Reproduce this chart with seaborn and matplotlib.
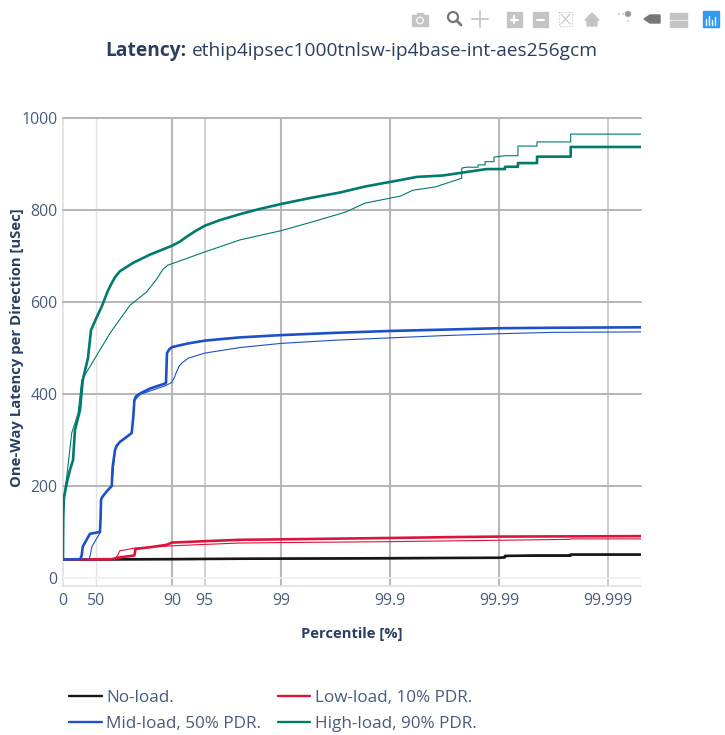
import matplotlib
matplotlib.use("Agg")
import matplotlib.pyplot as plt
import seaborn as sns
import pandas as pd
from matplotlib.patches import Rectangle, Circle, Polygon

# x values are "nines" of the percentile: -log10(1 - p/100)
no_thick_x = [0, 1.0, 1.7, 3.0, 3.95, 4.0, 4.055, 4.055, 4.349, 4.658, 4.658, 5.303]
no_thick_y = [40, 41, 42, 43, 44, 44, 45, 48, 49, 49, 51, 51]
no_thin_x = [0, 1.0, 2.0, 3.0, 3.95, 4.0, 4.055, 4.055, 4.658, 4.658, 5.303]
no_thin_y = [40, 40, 41, 42, 43, 43, 44, 47, 47, 50, 50]

low_thick_x = [0, 0.45, 0.50, 0.655, 0.665, 0.80, 0.95, 1.0, 1.3, 1.62, 2.0, 3.0, 3.6, 4.0, 5.303]
low_thick_y = [40, 41, 44, 49, 63, 67, 72, 77, 80, 83, 84, 87, 89, 90, 91]
low_thin_x = [0, 0.47, 0.50, 0.52, 0.66, 1.0, 1.3, 1.62, 2.0, 3.0, 3.65, 4.0, 4.65, 4.658, 5.303]
low_thin_y = [40, 42, 48, 59, 65, 70, 73, 76, 77, 79, 81, 82, 84, 85, 85]

mid_thick_x = [0, 0.16, 0.172, 0.181, 0.247, 0.339, 0.345, 0.349, 0.36, 0.40, 0.447, 0.455, 0.477, 0.49, 0.523, 0.58, 0.63, 0.645, 0.655, 0.67, 0.706, 0.80, 0.94, 0.945, 0.950, 0.954, 0.975, 1.0, 1.15, 1.3, 1.62, 2.0, 2.5, 3.0, 3.5, 4.0, 4.5, 5.303]
mid_thick_y = [40, 41, 50, 68, 96, 100, 130, 170, 176, 188, 200, 240, 278, 287, 296, 306, 315, 350, 387, 395, 401, 412, 423, 424, 460, 489, 497, 502, 510, 516, 523, 528, 533, 537, 540, 543, 544, 545]
mid_thin_x = [0, 0.24, 0.25, 0.265, 0.339, 0.349, 0.40, 0.447, 0.477, 0.523, 0.63, 0.655, 0.706, 0.94, 0.997, 1.02, 1.043, 1.065, 1.089, 1.15, 1.303, 1.624, 2.0, 2.5, 3.0, 3.5, 4.0, 4.5, 5.303]
mid_thin_y = [40, 41, 50, 68, 98, 170, 188, 200, 278, 296, 315, 385, 399, 418, 425, 435, 449, 460, 467, 478, 489, 501, 510, 517, 522, 527, 531, 534, 535]

high_thick_x = [0, 0.001, 0.003, 0.009, 0.034, 0.064, 0.092, 0.110, 0.156, 0.181, 0.229, 0.257, 0.30, 0.355, 0.413, 0.447, 0.48, 0.523, 0.642, 0.798, 0.997, 1.07, 1.135, 1.22, 1.303, 1.44, 1.624, 1.8, 2.0, 2.266, 2.541, 2.771, 3.0, 3.092, 3.248, 3.486, 3.658, 3.887, 4.055, 4.055, 4.174, 4.174, 4.349, 4.349, 4.658, 4.658, 5.303]
high_thick_y = [40, 90, 141, 175, 206, 235, 256, 322, 365, 430, 478, 539, 562, 590, 625, 641, 655, 667, 685, 703, 722, 731, 742, 755, 766, 778, 791, 802, 813, 826, 838, 851, 861, 865, 872, 875, 881, 889, 889, 894, 894, 902, 902, 916, 916, 937, 937]
high_thin_x = [0, 0.002, 0.009, 0.034, 0.080, 0.138, 0.172, 0.294, 0.431, 0.53, 0.615, 0.768, 0.86, 0.917, 0.96, 1.009, 1.303, 1.624, 2.0, 2.3, 2.587, 2.771, 3.092, 3.211, 3.413, 3.658, 3.658, 3.70, 3.808, 3.808, 3.872, 3.872, 3.954, 3.954, 4.055, 4.174, 4.174, 4.349, 4.349, 4.658, 4.658, 5.303]
high_thin_y = [40, 110, 177, 220, 315, 358, 430, 478, 532, 565, 593, 622, 650, 671, 680, 684, 709, 735, 755, 775, 795, 815, 830, 843, 850, 869, 891, 893, 893, 898, 898, 905, 905, 915, 918, 918, 939, 939, 948, 948, 965, 965]

tick_pos = [0, 0.30103, 1, 1.30103, 2, 3, 4, 5]
tick_labels = ["0", "50", "90", "95", "99", "99.9", "99.99", "99.999"]
y_ticks = [0, 200, 400, 600, 800, 1000]
legend_names = ["No-load.", "Low-load, 10% PDR.", "Mid-load, 50% PDR.", "High-load, 90% PDR."]
title_bold = "Latency:"
title_rest = "ethip4ipsec1000tnlsw-ip4base-int-aes256gcm"

W, H = 725, 735
sns.set_theme(style="white")
plt.rcParams["font.family"] = ["Open Sans", "DejaVu Sans"]
TXT = "#4a5b7a"
NAVY = "#2a3f5f"
BLACK, RED, BLUE, GREEN = "#1a1414", "#dc143c", "#1f4fc8", "#007a6c"
THICK, THIN = 1.9, 0.8

fig = plt.figure(figsize=(W / 100, H / 100), dpi=100)
ax = fig.add_axes([63 / W, 1 - 586 / H, (641 - 63) / W, (586 - 118) / H])

series = [
    (no_thin_x, no_thin_y, BLACK, THIN), (no_thick_x, no_thick_y, BLACK, THICK),
    (low_thin_x, low_thin_y, RED, THIN), (low_thick_x, low_thick_y, RED, THICK),
    (mid_thin_x, mid_thin_y, BLUE, THIN), (mid_thick_x, mid_thick_y, BLUE, THICK),
    (high_thin_x, high_thin_y, GREEN, THIN), (high_thick_x, high_thick_y, GREEN, THICK),
]
for xs, ys, col, lw in series:
    d = pd.DataFrame({"x": xs, "y": ys})
    sns.lineplot(data=d, x="x", y="y", ax=ax, color=col, linewidth=lw,
                 estimator=None, sort=False, errorbar=None, zorder=3, clip_on=True)

ax.set_xlim(0, 5.303)
ax.set_ylim(-17.4, 1000)
ax.set_xticks(tick_pos, tick_labels)
ax.set_yticks(y_ticks)
ax.tick_params(axis="y", length=0, labelsize=11.4, labelcolor=TXT, pad=4)
ax.tick_params(axis="x", length=0, labelsize=11.4, labelcolor=TXT, pad=5)
ax.set_xlabel("")
ax.set_ylabel("")

grid_styles = {0: ("#e4e4e4", 1.4), 0.30103: ("#e4e4e4", 1.0), 1: ("#b8b8b8", 1.5),
               1.30103: ("#d2d2d2", 1.4), 2: ("#b8b8b8", 1.5), 3: ("#b8b8b8", 1.5),
               4: ("#b8b8b8", 1.5), 5: ("#cccccc", 1.4)}
for pos, (c, lw) in grid_styles.items():
    ax.axvline(pos, color=c, lw=lw, zorder=1, clip_on=False)
for v in y_ticks[1:]:
    ax.axhline(v, color="#b4b4b4", lw=1.4, zorder=1, clip_on=False)
ax.axhline(0, color="#efefef", lw=1.2, zorder=1)
for s in ["top", "right", "left"]:
    ax.spines[s].set_visible(False)
ax.spines["bottom"].set_color("#e2e2e2")
ax.spines["bottom"].set_linewidth(1.2)

fig.text(352 / W, 1 - 634 / H, "Percentile [%]", ha="center", va="center",
         fontsize=10.6, fontweight="bold", color=NAVY)
fig.text(17 / W, 1 - 348 / H, "One-Way Latency per Direction [uSec]", ha="center", va="center",
         rotation=90, fontsize=10.7, fontweight="bold", color=NAVY)

t1 = fig.text(105 / W, 1 - 56 / H, title_bold, ha="left", va="baseline",
              fontsize=13.8, fontweight="bold", color=NAVY)
bold_w = t1.get_window_extent(fig.canvas.get_renderer()).width
fig.text((105 + bold_w + 5.5) / W, 1 - 56 / H, title_rest, ha="left", va="baseline",
         fontsize=13.8, color=NAVY)

handles = [plt.Line2D([], [], color=c, lw=1.7) for c in (BLACK, RED, BLUE, GREEN)]
order = [0, 2, 1, 3]
fig.legend([handles[i] for i in order], [legend_names[i] for i in order], ncol=2,
           loc="upper left", bbox_to_anchor=(64 / W, 1 - 685 / H), frameon=False,
           fontsize=12.3, labelcolor=TXT, handlelength=1.9, handletextpad=0.28,
           columnspacing=0.95, labelspacing=0.55, borderpad=0.3, borderaxespad=0)

# modebar
ov = fig.add_axes([0, 0, 1, 1], facecolor="none")
ov.set_xlim(0, W); ov.set_ylim(H, 0); ov.axis("off"); ov.set_zorder(5)
G = "#c4c4c4"
ov.add_patch(Rectangle((412, 15), 16, 11, color=G)); ov.add_patch(Rectangle((417, 13), 6, 3, color=G))
ov.add_patch(Circle((420, 20.5), 3.2, color="white")); ov.add_patch(Circle((420, 20.5), 2, color=G))
ov.add_patch(Circle((453, 17), 5, fill=False, ec="#777777", lw=1.6)); ov.plot([457, 461], [21, 25], color="#777777", lw=2)
ov.plot([472, 488], [19, 19], color=G, lw=1.2); ov.plot([480, 480], [11, 27], color=G, lw=1.2)
for x, sym in [(507, True), (533, False)]:
    ov.add_patch(Rectangle((x, 12), 15, 15, color=G))
    ov.plot([x + 4, x + 11], [19.5, 19.5], color="white", lw=1.5)
    if sym:
        ov.plot([x + 7.5, x + 7.5], [16, 23], color="white", lw=1.5)
ov.add_patch(Rectangle((559, 12), 13, 14, fill=False, ec=G, lw=0.8, ls=":"))
ov.plot([561, 570], [14, 24], color=G, lw=0.8); ov.plot([570, 561], [14, 24], color=G, lw=0.8)
ov.add_patch(Polygon([[585, 20], [592, 13], [599, 20], [597, 20], [597, 26], [587, 26], [587, 20]], color=G))
ov.add_patch(Circle((628, 14), 2.4, color="#999999")); ov.plot([628, 628], [16, 24], color=G, lw=1.2, ls=":")
ov.plot([618, 625], [14, 14], color=G, lw=1.2, ls=":")
ov.add_patch(Polygon([[644, 19], [650, 15], [660, 15], [660, 23], [650, 23]], color="#777777"))
ov.add_patch(Rectangle((670, 13), 17, 6, color=G)); ov.add_patch(Rectangle((670, 21), 17, 6, color=G))
ov.add_patch(Rectangle((703, 11), 16, 16, color="#2f9bf4"))
for x, h in zip([706, 709, 712, 715], [6, 9, 5, 8]):
    ov.plot([x, x], [25, 25 - h], color="white", lw=1)

fig.savefig("out.png", dpi=100)
